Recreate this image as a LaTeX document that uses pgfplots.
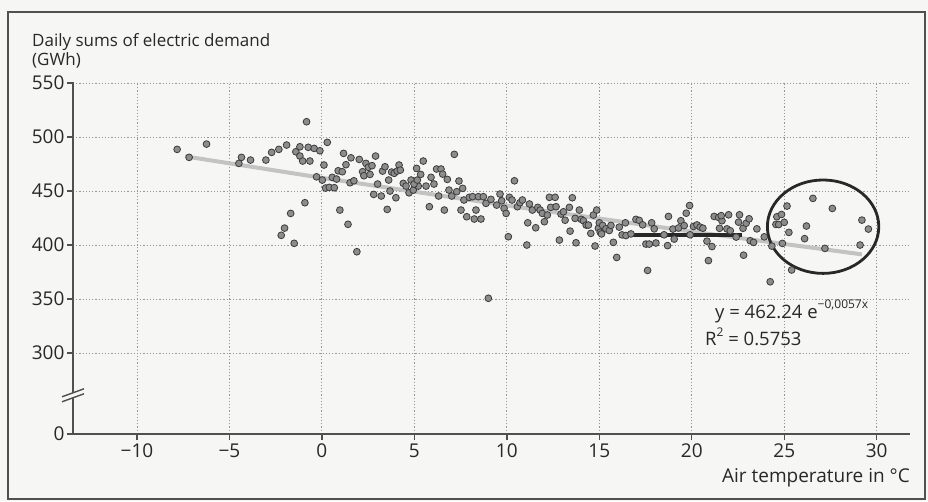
\documentclass[border=0pt]{standalone}
\usepackage{pgfplots}
\pgfplotsset{compat=1.18}
\usepackage{fontspec}
\setmainfont{Open Sans}
\definecolor{bg}{RGB}{246,246,244}
\definecolor{txt}{RGB}{40,40,40}
\definecolor{axc}{RGB}{80,80,80}
\definecolor{gridc}{RGB}{150,150,150}
\definecolor{ptfill}{RGB}{140,140,140}
\definecolor{ptedge}{RGB}{60,60,60}
\definecolor{trend}{RGB}{195,195,195}
\definecolor{dark}{RGB}{40,40,40}
\newcommand\fs{\fontsize{17}{20}\selectfont}
\newcommand\fl{\fontsize{19}{22}\selectfont}
\newcommand\fe{\fontsize{18.5}{22}\selectfont}
\begin{document}
\begin{tikzpicture}
\fill[bg] (-73pt,-67pt) rectangle (855pt,434pt);
\draw[axc, line width=1.8pt] (-65pt,-65pt) rectangle (852pt,422pt);
\begin{axis}[
  scale only axis, width=837pt, height=352pt,
  xmin=-13.46, xmax=31.8, ymin=225, ymax=551,
  axis lines*=left,
  axis line style={axc, line width=1.6pt},
  xtick={-10,-5,0,5,10,15,20,25,30},
  xticklabels={−10,−5,0,5,10,15,20,25,30},
  ytick={225,300,350,400,450,500,550},
  yticklabels={0,300,350,400,450,500,550},
  tick align=outside, major tick length=6pt,
  tick style={axc, line width=1.4pt},
  tick label style={font=\fl, text=txt},
  yticklabel style={xshift=1pt},
  grid=major,
  major grid style={gridc, line width=0.9pt, dash pattern=on 1.2pt off 2pt},
]
\addplot[trend, line width=4pt] coordinates {(-7.4,482.15)(0,462.24)(10,436.63)(20,412.44)(29.2,391.37)};
\addplot[only marks, mark=*, mark size=3.4pt, mark options={fill=ptfill, draw=ptedge, line width=0.8pt}] coordinates {
(-7.83,488.6)(-7.18,481.2)(-6.24,493.5)(-4.35,481.2)(-4.49,475.6)(-3.86,478.7)(-3.03,478.7)(-2.72,485.8)
(-2.33,488.6)(-1.91,492.6)(-1.41,486.4)(-1.19,491.0)(-1.19,482.4)(-1.04,477.8)(-0.83,514.2)(-0.74,490.5)
(-0.65,477.8)(-1.69,429.3)(-2.02,415.7)(-2.2,409.0)(-1.5,401.6)(-0.92,439.2)
(-0.42,489.5)(-0.11,487.3)(0.11,474.1)(0.29,495.1)(-0.29,463.2)(0.02,460.2)(0.2,452.8)(0.4,453.4)
(0.67,453.1)(0.56,462.7)(0.79,461.1)(0.88,468.8)(1.1,467.9)(1.17,484.9)(1.3,474.4)(1.57,480.8)
(1.52,457.7)(1.73,459.5)(2.02,479.3)(0.97,432.4)(1.41,419.2)(1.89,393.8)
(2.38,475.6)(2.2,467.9)(2.51,472.0)(2.71,473.5)(2.9,482.4)(2.27,464.2)(2.6,465.4)(2.8,446.9)
(3.01,456.5)(3.21,445.4)(3.28,468.5)(3.41,472.5)(3.53,433.0)(3.61,460.2)(3.68,450.0)(3.77,467.6)
(3.91,466.4)(4.0,443.8)(4.07,468.5)(4.17,474.1)(4.24,469.4)(4.4,457.1)(4.55,454.6)(4.71,448.4)
(4.82,460.2)(4.94,450.9)(5.12,471.0)(5.21,454.6)(4.98,456.5)(5.16,460.2)
(5.34,465.4)(5.48,477.8)(5.63,454.6)(5.81,435.5)(5.9,462.7)(6.06,456.5)(6.2,470.4)(6.44,470.4)
(6.53,465.7)(6.31,445.4)(6.62,432.4)(6.78,460.8)(6.87,450.9)(7.02,445.4)(7.16,484.0)(7.29,449.4)
(7.41,459.3)(7.61,452.5)(7.52,432.4)(7.68,441.7)(7.83,426.2)(7.97,444.2)(8.15,444.8)(8.33,432.4)
(8.46,444.8)(8.24,424.1)(8.6,424.1)(8.73,444.8)(8.87,438.6)(9.0,350.7)(9.14,442.3)(9.45,437.0)
(9.63,447.2)(9.72,441.0)(9.85,434.0)(9.96,429.3)
(10.08,407.7)(10.14,444.2)(10.28,441.7)(10.41,459.5)(10.57,435.5)(10.71,439.2)(10.84,441.7)(11.08,400.0)
(11.13,420.6)(11.22,438.0)(11.38,432.4)(11.56,416.0)(11.67,434.9)(11.8,432.4)(11.92,429.3)(12.03,421.6)
(12.19,427.8)(12.3,444.2)(12.61,444.2)(12.37,434.9)(12.66,435.5)(12.84,404.6)(12.93,428.7)(13.06,430.8)
(13.15,423.0)(13.38,434.9)(13.42,412.9)(13.54,443.8)(13.69,424.7)(13.74,402.1)(13.92,432.4)(14.02,423.8)
(14.14,422.5)(14.29,418.5)(14.41,418.5)(14.54,410.8)(14.68,427.8)(14.77,399.1)(14.95,415.5)(14.86,432.4)
(15.0,420.6)(15.05,411.9)(15.12,410.3)(15.18,418.2)(15.36,415.0)(15.54,413.5)(15.63,418.2)(15.76,402.5)
(15.94,388.5)(16.08,416.6)(16.41,420.6)(16.23,409.4)(16.44,408.8)(16.71,410.3)(16.98,423.8)(17.16,422.8)
(17.34,418.7)(17.52,400.9)(17.7,400.9)(17.61,376.5)(17.83,420.6)(17.97,415.0)(18.06,401.9)
(18.74,426.5)(18.5,409.5)(18.69,399.5)(19.05,405.5)(18.98,414.8)(19.28,415.8)(19.41,422.5)(19.59,418.0)
(19.7,429.5)(19.88,436.6)(20.09,417.2)(20.28,418.6)(20.45,416.6)(20.6,415.6)(19.91,409.5)(20.82,403.6)
(21.09,398.6)(20.9,385.6)(21.21,426.5)(21.45,425.6)(21.63,422.5)(21.59,427.2)(21.99,428.0)(21.5,415.5)
(21.9,415.0)(22.08,413.2)(22.58,428.0)(22.53,421.2)(22.77,415.5)(22.94,420.2)(23.1,424.3)(22.4,407.4)
(22.8,390.6)(23.16,404.0)(23.34,402.5)(23.52,415.0)(23.92,407.6)(24.24,366.0)(24.33,399.0)
(24.6,426.2)(24.85,428.3)(24.55,419.1)(24.7,419.0)(25.15,436.1)(25.0,421.0)(25.25,411.7)(24.9,401.5)
(25.4,376.9)(26.2,417.6)(26.1,405.9)(26.55,443.2)(27.2,396.9)(27.6,433.9)(29.2,423.1)(29.55,414.8)
(29.1,400.0)
};
\addplot[dark, line width=3.5pt] coordinates {(16.05,409.5)(22.7,409.5)};
\draw[dark, line width=2.8pt] (axis cs:27.1,417) ellipse [x radius=55.7pt, y radius=46.7pt];
\coordinate (brk) at (rel axis cs:0,0.11);
\end{axis}
\draw[bg, line width=4pt] ([shift={(-11pt,-4pt)}]brk) -- ([shift={(11pt,4pt)}]brk);
\draw[axc, line width=1.4pt] ([shift={(-11pt,-6.5pt)}]brk) -- ([shift={(11pt,1.5pt)}]brk);
\draw[axc, line width=1.4pt] ([shift={(-11pt,-1.5pt)}]brk) -- ([shift={(11pt,6.5pt)}]brk);
\node[anchor=base west, font=\fs, text=txt, inner sep=0pt] at (-41pt,387pt) {Daily sums of electric demand};
\node[anchor=base west, font=\fs, text=txt, inner sep=0pt] at (-41pt,368pt) {(GWh)};
\node[anchor=base east, font=\fl, text=txt, inner sep=0pt] at (837pt,-48pt) {Air temperature in °C};
\node[anchor=base west, font=\fe, text=txt, inner sep=0pt] at (642pt,116pt) {y = 462.24 e\raisebox{0.5em}{\fontsize{12}{13}\selectfont −0,0057x}};
\node[anchor=base west, font=\fe, text=txt, inner sep=0pt] at (632pt,89pt) {R\raisebox{0.45em}{\fontsize{12}{13}\selectfont 2} = 0.5753};
\end{tikzpicture}
\end{document}
